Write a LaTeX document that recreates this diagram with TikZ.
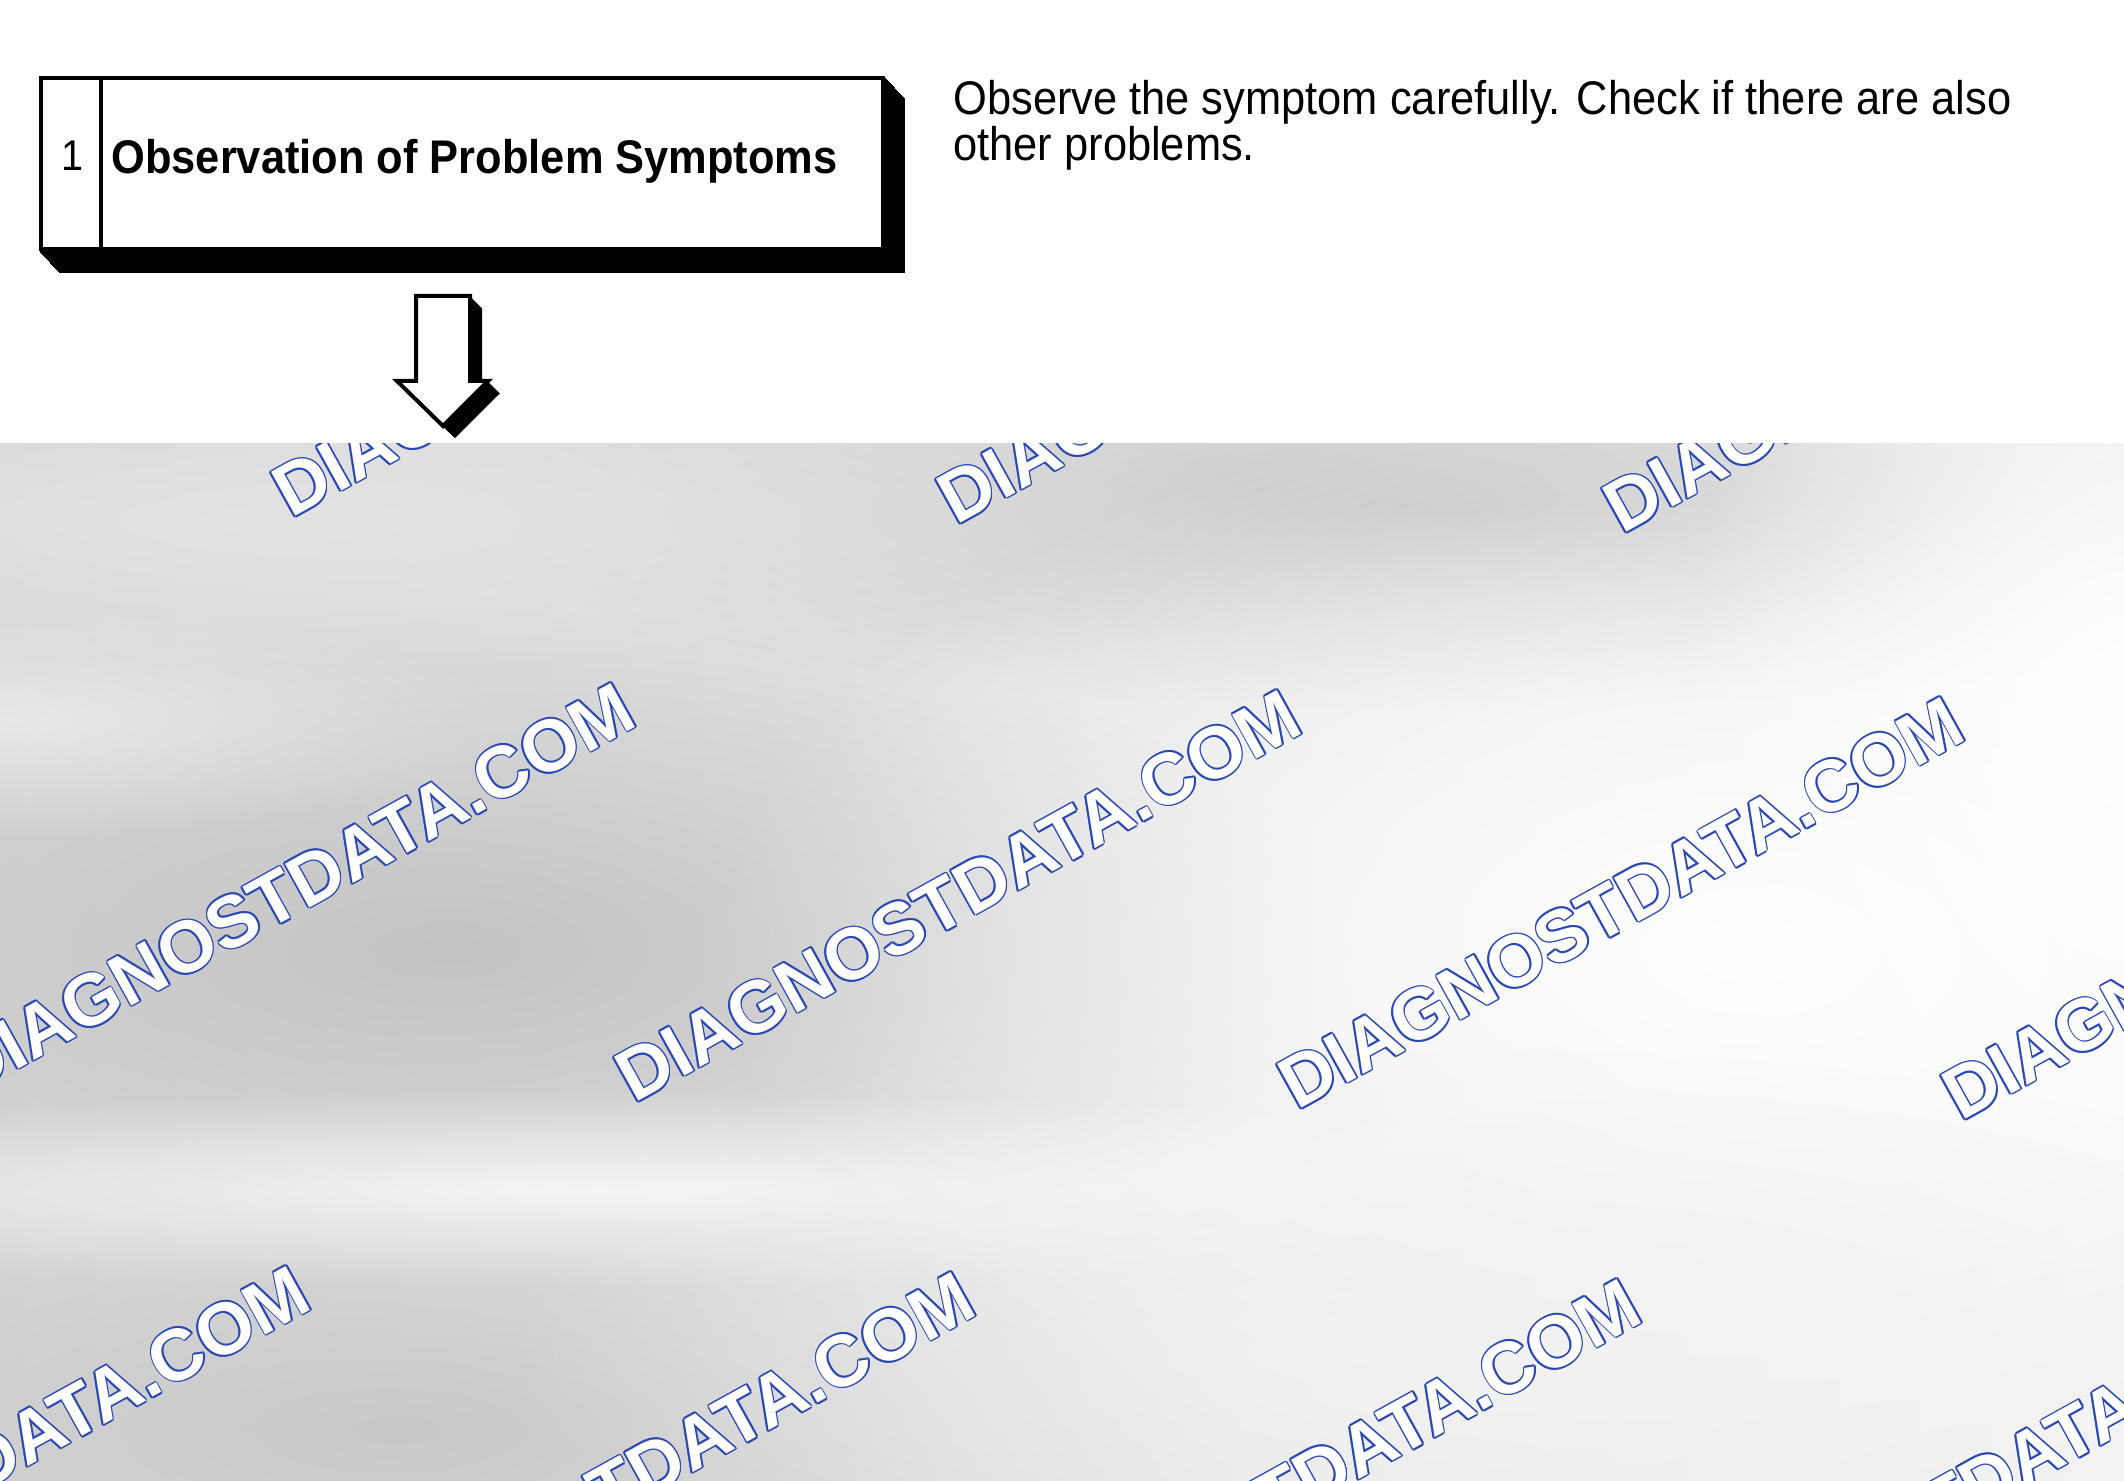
\documentclass[tikz,border=0pt]{standalone}
\usepackage{fontspec}
\setmainfont{Liberation Sans}
\newfontfamily\narrowsans{Liberation Sans}[FakeStretch=0.92]
\usetikzlibrary{fadings,backgrounds}
\tikzfading[name=softblob, inner color=transparent!0, outer color=transparent!100]
\definecolor{wmblue}{HTML}{2A48B4}
\tikzset{
 stepbox/.style={draw=black, line width=2pt, fill=white, minimum width=421pt, minimum height=85.5pt, inner sep=0pt},
 titletext/.style={inner sep=0pt, anchor=base west, font=\narrowsans\fontsize{23.6}{28}\selectfont\bfseries},
 numtext/.style={inner sep=0pt, anchor=base, font=\narrowsans\fontsize{21.5}{24}\selectfont},
 desctext/.style={inner sep=0pt, anchor=north west, align=left, font=\narrowsans\fontsize{23.6}{21}\selectfont},
 wm/.style={inner sep=0pt, anchor=base west, rotate=29, font=\fontsize{36.5}{40}\selectfont\bfseries},
 blob/.style={path fading=softblob},
 blockarrow/.style={draw=black, line width=2pt, fill=white, line join=miter},
}
\newcommand\wmark[3]{%
  \foreach \dx/\dy [count=\k] in {0.85/0,-0.85/0,0/0.85,0/-0.85,0.6/0.6,-0.6/0.6,0.6/-0.6,-0.6/-0.6}{%
    \node[wm, text=wmblue, xshift=\dx pt, yshift=\dy pt] (#3-\k) at (#1,#2) {DIAGNOSTDATA.COM};}
  \node[wm, text=white] (#3) at (#1,#2) {DIAGNOSTDATA.COM};}
\begin{document}
\begin{tikzpicture}[x=0.5pt,y=-0.5pt]
\useasboundingbox (0,0) rectangle (2124,1481);
% grey obscured region
\begin{scope}
\clip (0,443) rectangle (2124,1481);
\shade[left color=black!16, right color=black!5] (0,443) rectangle (2124,1481);
\fill[black!22, blob] (1450,510) ellipse [x radius=520pt, y radius=100pt];
\fill[black!23, blob] (450,950) ellipse [x radius=450pt, y radius=170pt];
\fill[black!21, blob] (400,1430) ellipse [x radius=420pt, y radius=130pt];
\fill[black!4, blob] (600,1190) ellipse [x radius=600pt, y radius=50pt];
\fill[white, blob] (1750,950) ellipse [x radius=520pt, y radius=280pt];
\fill[white, blob] (2124,700) ellipse [x radius=220pt, y radius=320pt];
\fill[black!5, blob] (1500,1350) ellipse [x radius=500pt, y radius=150pt];
\fill[black!9, blob] (0,720) ellipse [x radius=260pt, y radius=60pt];
\fill[black!11, blob] (300,520) ellipse [x radius=500pt, y radius=80pt];
\wmark{291}{519}{wa}
\wmark{956}{526}{wb}
\wmark{1622}{535}{wc}
\wmark{-32}{1097}{wd}
\wmark{634}{1104}{we}
\wmark{1297}{1111}{wf}
\wmark{1961}{1122}{wg}
\wmark{-357}{1680}{wh}
\wmark{308}{1686}{wi}
\wmark{974}{1693}{wj}
\wmark{1640}{1701}{wk}
\end{scope}
% step box
\node[stepbox] (s1) at (462,164) {};
\begin{scope}[on background layer]
\foreach \t in {0,...,20}
  \fill[black] ([shift={(\t,1.1*\t)}]s1.north west) rectangle ([shift={(\t,1.1*\t)}]s1.south east);
\end{scope}
\draw[line width=2pt] ([xshift=31pt]s1.north west) -- ([xshift=31pt]s1.south west);
\node[numtext] (n1) at (73,171) {1};
\node[titletext] (t1) at (111,174) {Observation of Problem Symptoms};
\node[desctext] (d1) at (953,80) {Observe the symptom carefully. Check if there are also\\other problems.};
% block arrow
\foreach \t in {0,...,12}
  \fill[black, shift={(\t,\t)}] (416,296) -- (470,296) -- (470,381) -- (488,381) -- (443,426) -- (397,381) -- (416,381) -- cycle;
\draw[blockarrow] (416,296) -- (470,296) -- (470,381) -- (488,381) -- (443,426) -- (397,381) -- (416,381) -- cycle;
\end{tikzpicture}
\end{document}
